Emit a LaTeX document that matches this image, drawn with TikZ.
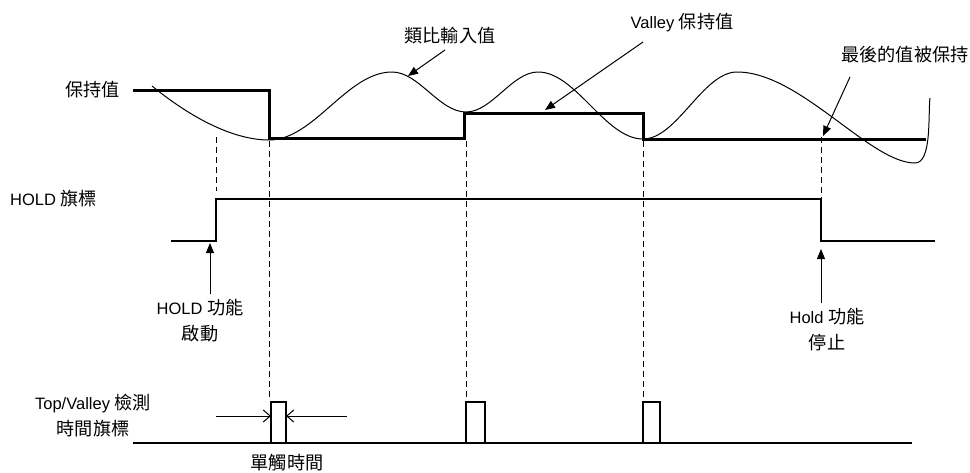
\documentclass[tikz,border=0pt]{standalone}
\usepackage{fontspec}
\setmainfont{Liberation Sans}
\newfontfamily\cjk[Scale=1.1]{Noto Sans CJK TC}
\newcommand{\zh}[1]{{\cjk #1}}
\usetikzlibrary{arrows.meta, positioning}
\tikzset{
  every picture/.style={line join=miter},
  holdline/.style={line width=3pt},
  signal/.style={line width=1.6pt},
  wave/.style={line width=1pt},
  guide/.style={dash pattern=on 6pt off 4pt, line width=0.9pt},
  callout/.style={-{Triangle[length=10pt, width=8pt]}, line width=1pt},
  span/.style={-{Straight Barb[length=7pt, width=12pt]}, line width=1pt},
  txt/.style={align=center, inner sep=0pt},
}

\begin{document}
\begin{tikzpicture}[x=1pt, y=-1pt, every node/.append style={font=\fontsize{16.5}{26}\selectfont}]
  \useasboundingbox (0,0) rectangle (970,472);
  % held value and analog input
  \draw[holdline] (133,90) -- (269,90) -- (269,138) -- (464,138) -- (464,113)
    -- (643,113) -- (643,139) -- (926,139);
  \draw[wave] (152,86) .. controls (200,125) and (240,140) .. (269,140)
    .. controls (314,140) and (347,72) .. (392,72)
    .. controls (419,72) and (439,112) .. (466,112)
    .. controls (492,112) and (512,72) .. (538,72)
    .. controls (576,72) and (605,139) .. (643,139)
    .. controls (677,139) and (703,72) .. (737,72)
    .. controls (800,72) and (870,163) .. (915,163)
    .. controls (932,163) and (928,115) .. (930,98);
  \node[txt, anchor=east] (hv) at (120,90) {\zh{保持值}};
  \node[txt] (ana) at (450,36) {\zh{類比輸入值}};
  \node[txt] (vly) at (682,23) {Valley \zh{保持值}};
  \node[txt] (last) at (905,55) {\zh{最後的值被保持}};
  \coordinate (anaT) at (445,50);  \coordinate (anaH) at (408,76);
  \coordinate (vlyT) at (643,42);  \coordinate (vlyH) at (545,110);
  \coordinate (lastT) at (850,77); \coordinate (lastH) at (823,136);
  \draw[callout] (anaT) -- (anaH);
  \draw[callout] (vlyT) -- (vlyH);
  \draw[callout] (lastT) -- (lastH);
  % dashed guides
  \foreach \x/\ya/\yb in {216/137/191, 269/141/399, 466/141/399, 643/141/399, 821/137/199} {
    \draw[guide] (\x,\ya) -- (\x,\yb);
  }
  % HOLD flag
  \node[txt, anchor=west] (hf) at (10,199) {HOLD \zh{旗標}};
  \draw[signal] (171,241) -- (216,241) -- (216,199) -- (821,199) -- (821,241) -- (935,241);
  \node[txt] (on) at (200,321) {HOLD \zh{功能}\\\zh{啟動}};
  \node[txt] (off) at (827,330) {Hold \zh{功能}\\\zh{停止}};
  \coordinate (onT) at (210,294);  \coordinate (onH) at (210,243);
  \coordinate (offT) at (821,303); \coordinate (offH) at (821,249);
  \draw[callout] (onT) -- (onH);
  \draw[callout] (offT) -- (offH);
  % Top/Valley detection flag
  \node[txt] (tv) at (93,416) {Top/Valley \zh{檢測}\\\zh{時間旗標}};
  \draw[signal] (133,443) -- (912,443);
  \foreach \xa/\xb in {271/286, 466/485, 643/660} {
    \draw[signal] (\xa,443) -- (\xa,402) -- (\xb,402) -- (\xb,443);
  }
  \coordinate (wL) at (216,416); \coordinate (wR) at (347,416);
  \coordinate (pL) at (271,416); \coordinate (pR) at (286,416);
  \draw[span] (wL) -- (pL);
  \draw[span] (wR) -- (pR);
  \node[txt] (one) at (287,463) {\zh{單觸時間}};
\end{tikzpicture}
\end{document}
